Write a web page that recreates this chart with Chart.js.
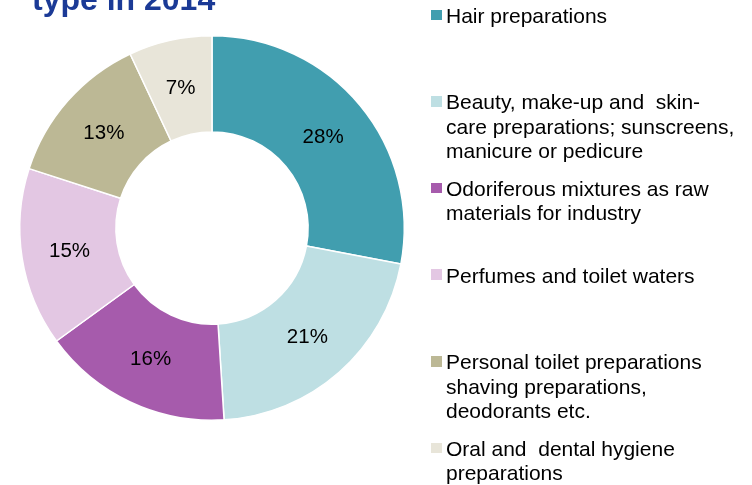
<!DOCTYPE html>
<html>
<head>
<meta charset="utf-8">
<script src="https://cdn.jsdelivr.net/npm/chart.js@4"></script>
<style>
  html, body { margin: 0; padding: 0; background: #fff; overflow: hidden; }
  #wrap { position: relative; width: 752px; height: 485px; font-family: "Liberation Sans", Arial, sans-serif; }
  #c { position: absolute; left: 0; top: 0; }
  #title { position: absolute; left: 32px; top: -17px; font-size: 32px; line-height: 32px; font-weight: bold; color: #1B3A96; white-space: nowrap; }
  #legend { position: absolute; left: 431px; top: 3.8px; }
  .item { position: relative; height: 86.6px; }
  .sw { position: absolute; left: 0; top: 5.9px; width: 10.5px; height: 10.5px; }
  .txt { position: absolute; left: 15px; top: 0; font-size: 21px; line-height: 24.5px; color: #000; white-space: pre; }
</style>
</head>
<body>
<div id="wrap">
  <canvas id="c" width="752" height="485"></canvas>
  <div id="title">type in 2014</div>
  <div id="legend"></div>
</div>
<script>
const categories = [
  "Hair preparations",
  "Beauty, make-up and  skin-\ncare preparations; sunscreens,\nmanicure or pedicure",
  "Odoriferous mixtures as raw\nmaterials for industry",
  "Perfumes and toilet waters",
  "Personal toilet preparations\nshaving preparations,\ndeodorants etc.",
  "Oral and  dental hygiene\npreparations"
];
const shares = [28, 21, 16, 15, 13, 7];
const colors = ["#419EAF", "#BEDFE3", "#A65BAC", "#E3C7E3", "#BCB895", "#E8E5D9"];

// HTML legend built from the arrays
const legend = document.getElementById('legend');
categories.forEach((name, i) => {
  const item = document.createElement('div');
  item.className = 'item';
  const sw = document.createElement('div');
  sw.className = 'sw';
  sw.style.background = colors[i];
  const t = document.createElement('div');
  t.className = 'txt';
  t.textContent = name;
  item.appendChild(sw);
  item.appendChild(t);
  legend.appendChild(item);
});

const pctLabels = {
  id: 'pctLabels',
  afterDatasetsDraw(chart) {
    const ctx = chart.ctx;
    const meta = chart.getDatasetMeta(0);
    ctx.save();
    ctx.font = '20.5px "Liberation Sans", Arial, sans-serif';
    ctx.fillStyle = '#000';
    ctx.textAlign = 'center';
    ctx.textBaseline = 'middle';
    meta.data.forEach((arc, i) => {
      const p = arc.tooltipPosition();
      ctx.fillText(shares[i] + '%', p.x, p.y + 1);
    });
    ctx.restore();
  }
};

new Chart(document.getElementById('c'), {
  type: 'doughnut',
  data: {
    labels: categories,
    datasets: [{
      data: shares,
      backgroundColor: colors,
      borderColor: '#ffffff',
      borderWidth: 1.5
    }]
  },
  options: {
    responsive: false,
    animation: false,
    cutout: '50%',
    layout: { padding: { left: 19, right: 347, top: 35, bottom: 64 } },
    plugins: { legend: { display: false }, tooltip: { enabled: false } }
  },
  plugins: [pctLabels]
});
</script>
</body>
</html>
